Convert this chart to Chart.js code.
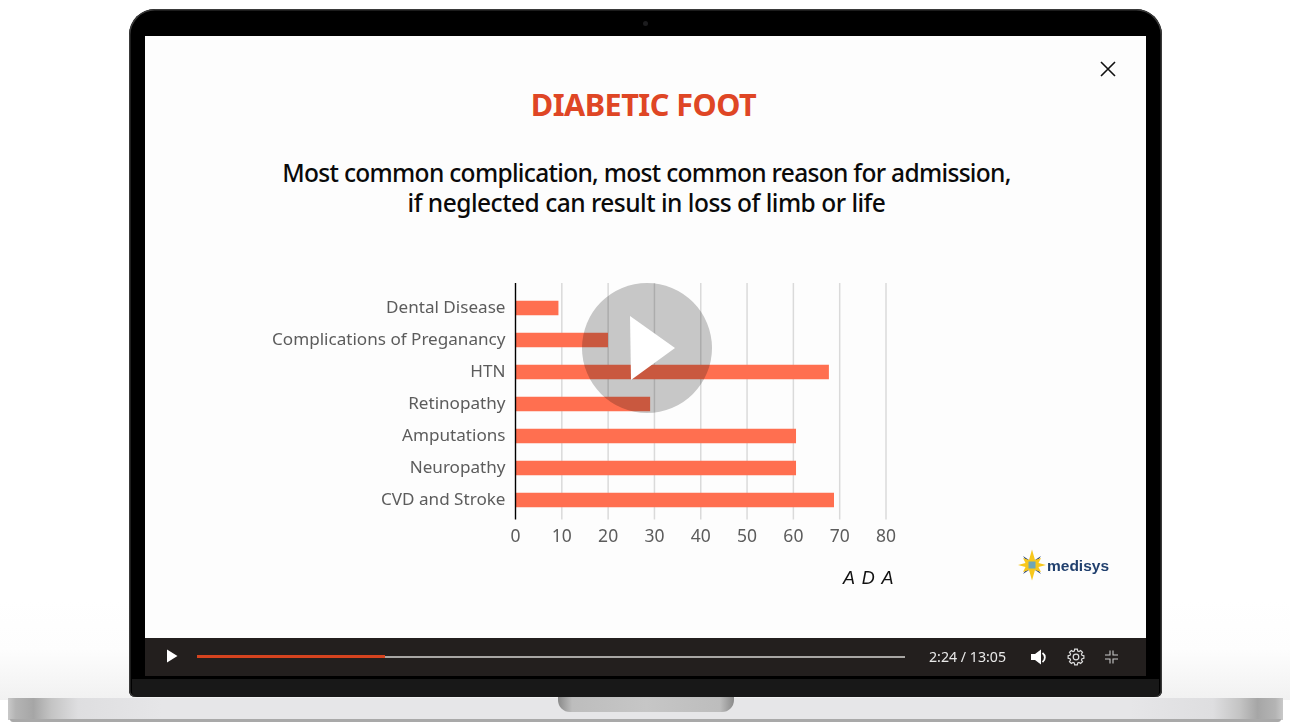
<!DOCTYPE html>
<html><head><meta charset="utf-8">
<script src="https://cdn.jsdelivr.net/npm/chart.js@4/dist/chart.umd.min.js"></script>
<style>
html,body{margin:0;padding:0;width:1290px;height:722px;overflow:hidden;background:#fff;font-family:"Open Sans",sans-serif}
.abs{position:absolute}
#shade{left:0;top:600px;width:1290px;height:100px;background:linear-gradient(180deg,#fff 0,#fdfdfd 50%,#f1f1f1 100%)}
#lid{left:129px;top:9px;width:1033px;height:688px;background:#000;border-radius:26px 26px 6px 6px;box-shadow:inset 0 0 0 1.5px #3a3a3a}
#chin{left:132px;top:679px;width:1027px;height:18px;background:#181818;border-radius:0 0 5px 5px}
#screen{left:145px;top:36px;width:1001px;height:602px;background:#fdfdfd}
#bar{left:145px;top:638px;width:1001px;height:38px;background:#231f1e}
#base{left:8px;top:697.500px;width:1275px;height:22px;background:linear-gradient(90deg,#c9c9c9 0,#b4b4b4 .6%,#a6a6a6 2%,#c4c4c4 3.400%,#dedee0 5.500%,#e6e6e8 12%,#e6e6e8 88%,#dedee0 94.500%,#c4c4c4 96.600%,#a6a6a6 98%,#b4b4b4 99.400%,#c9c9c9 100%)}
#baseb{left:10px;top:719px;width:1271px;height:3px;background:#a9a9a9;border-radius:0 0 4px 4px}
#notch{left:558px;top:697px;width:176px;height:14.500px;border-radius:0 0 12px 12px;background:linear-gradient(90deg,#8a8a8a 0,#bdbdbd 8%,#c6c6c6 50%,#bdbdbd 92%,#8a8a8a 100%)}
#cam{left:643px;top:21px;width:5px;height:5px;border-radius:50%;background:#1c1c1e}
.t{position:absolute;white-space:nowrap;text-align:center}
#title{left:143.500px;width:1000px;top:83px;font:700 30.600px/42px "Noto Sans";color:#df4625;letter-spacing:-.5px}
#sub{left:146px;width:1001px;top:158px;font:500 24.500px/30px "Noto Sans";color:#0a0a0a;letter-spacing:-.5px}
#sub span{letter-spacing:-.68px}
#ada{left:843px;top:567px;font:italic 400 18px/22px "Liberation Sans";color:#111;letter-spacing:1.2px}
#medi{left:1047px;top:557px;font:700 15.500px/18px "Liberation Sans";color:#21406e}
#time{left:929px;top:647px;font:400 14.200px/20px "Noto Sans";color:#e9e9e9}
#track{left:197px;top:656px;width:708px;height:1.500px;background:#a8a6a4}
#prog{left:197px;top:655px;width:188px;height:3px;background:#d5431f}
#c{position:absolute;left:0;top:0}
svg{position:absolute;overflow:visible}
</style></head><body>
<div class="abs" id="shade"></div>
<div class="abs" id="lid"></div><div class="abs" id="chin"></div>
<div class="abs" id="base"></div><div class="abs" id="baseb"></div><div class="abs" id="notch"></div>
<div class="abs" id="cam"></div>
<div class="abs" id="screen"></div><div class="abs" id="bar"></div>
<div class="t" id="title">DIABETIC FOOT</div>
<div class="t" id="sub"><span>Most common complication, most common reason for admission,</span><br>if neglected can result in loss of limb or life</div>
<canvas id="c" width="1290" height="722"></canvas>
<div class="t" id="ada">A D A</div>
<div class="t" id="medi">medisys</div>
<div class="t" id="time">2:24 / 13:05</div>
<div class="abs" id="track"></div><div class="abs" id="prog"></div>
<svg style="left:0;top:0" width="1290" height="722">
 <path d="M1101 62l14 14M1115 62l-14 14" stroke="#111" stroke-width="1.600" fill="none"/>
 <circle cx="647" cy="348" r="65" fill="#c9c9c9" style="mix-blend-mode:multiply"/>
 <path d="M630 316L675 348L631 380Z" fill="#fff"/>
 <path d="M167 649.500L177.500 656L167 662.500Z" fill="#fff"/>
 <path d="M1031 654h4l6-4.500v15l-6-4.500h-4z" fill="#fff"/><path d="M1042.500 653a5.500 5.500 0 0 1 0 9" stroke="#fff" stroke-width="1.800" fill="none"/>
 <path id="gear" fill="none" stroke="#ddd" stroke-width="1.200"/><circle cx="1076" cy="657" r="2.800" fill="none" stroke="#ddd" stroke-width="1.200"/>
 <path d="M1105 655h5v-4.500M1113 650.500v4.500h5M1105 659h5v4.500M1113 663.500v-4.500h5" fill="none" stroke="#c9c9c9" stroke-width="1.100"/>
 <g transform="translate(1032 565)">
  <path d="M-9-9L0-3L9-9L3 0L9 9L0 3L-9 9L-3 0Z" fill="#24427a"/>
  <path d="M0-15.500L3-5L9-7L6.500-2L14 0L6.500 2L9 7L3 5L0 15.500L-3 5L-9 7L-6.500 2L-14 0L-6.500-2L-9-7L-3-5Z" fill="#f7c71c"/>
  <rect x="-3.500" y="-3.500" width="7" height="7" fill="#6fa6b8"/>
 </g>
</svg>
<script>
const categories=["Dental Disease","Complications of Preganancy","HTN","Retinopathy","Amputations","Neuropathy","CVD and Stroke"];
const values=[9.2,19.9,67.6,29,60.5,60.5,68.7];
const tickValues=[0,10,20,30,40,50,60,70,80];
const categoryFont={family:'"Noto Sans"',size:17.1,weight:'400'};
const valueFont={family:'"Noto Sans"',size:17.500,weight:'400'};
const gridTop=283, gridBottom=519.5;
// decorative gear outline for the player bar
(function(){let d='';for(let i=0;i<8;i++){const a=i*Math.PI/4;
  [[-.28,6.2],[-.17,8],[.17,8],[.28,6.2]].forEach(([o,r],j)=>{d+=(i===0&&j===0?'M':'L')+(1076+r*Math.cos(a+o)).toFixed(2)+' '+(657+r*Math.sin(a+o)).toFixed(2);});}
  document.getElementById('gear').setAttribute('d',d+'Z');})();
const extendGrid={id:'extendGrid',beforeDatasetsDraw(ch){
  const {ctx,scales:{x}}=ch;ctx.save();ctx.strokeStyle='#dadada';ctx.lineWidth=1.5;
  tickValues.slice(1).forEach(v=>{const p=x.getPixelForValue(v);ctx.beginPath();ctx.moveTo(p,gridTop);ctx.lineTo(p,gridBottom);ctx.stroke();});
  ctx.restore();},
  afterDatasetsDraw(ch){const {ctx,scales:{x}}=ch;ctx.save();ctx.strokeStyle='#000';ctx.lineWidth=1.4;const p=x.getPixelForValue(0);ctx.beginPath();ctx.moveTo(p,gridTop);ctx.lineTo(p,gridBottom);ctx.stroke();ctx.restore();}};
new Chart(document.getElementById('c'),{type:'bar',
 data:{labels:categories,datasets:[{data:values,backgroundColor:'#ff6f50',barThickness:14,borderWidth:0}]},
 plugins:[extendGrid],
 options:{indexAxis:'y',responsive:false,animation:false,
  layout:{padding:{left:0,right:404,top:292,bottom:0}},
  plugins:{legend:{display:false},tooltip:{enabled:false}},
  scales:{
   x:{type:'linear',min:0,max:80,afterBuildTicks(s){s.ticks=tickValues.map(v=>({value:v}));},
      afterFit(s){s.height=206;},
      grid:{display:false,drawTicks:false},border:{display:false},
      ticks:{padding:11,maxRotation:0,color:'#5c5c5c',font:valueFont}},
   y:{type:'category',afterFit(s){s.width=515.5;},
      grid:{display:false,drawTicks:false},border:{display:false},
      ticks:{padding:10,color:'#5c5c5c',font:categoryFont}}
  }}});
</script>
</body></html>
